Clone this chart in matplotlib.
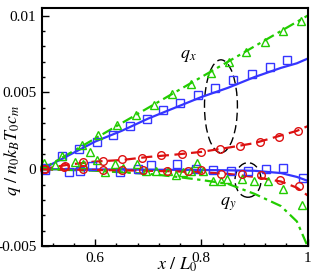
import matplotlib
matplotlib.use("Agg")
import matplotlib.pyplot as plt
from matplotlib.patches import Ellipse
from matplotlib.ticker import FixedLocator, MultipleLocator

plt.rcParams['font.family'] = ['Liberation Serif', 'DejaVu Serif']
plt.rcParams['mathtext.fontset'] = 'stix'

# ---- curves (model) ----
x_line = [0.5, 0.55, 0.6, 0.65, 0.7, 0.75, 0.8, 0.85, 0.9, 0.95, 0.98, 1.0]
qx_blue_line = [0, 0.0009, 0.0018, 0.0025, 0.0033, 0.0040, 0.0047, 0.0053, 0.0060, 0.0066, 0.0069, 0.0072]
qx_green_line = [0, 0.0010, 0.0020, 0.0030, 0.0040, 0.0050, 0.0060, 0.0070, 0.0080, 0.0090, 0.0096, 0.0100]
qx_red_line = [0, 0.0003, 0.0005, 0.0006, 0.0008, 0.00095, 0.00113, 0.0014, 0.0017, 0.0022, 0.0025, 0.0028]
qy_blue_line = [0, 0, -0.00001, -0.00002, -0.00003, -0.00004, -0.00005, -0.00007, -0.0001, -0.00025, -0.0005, -0.00075]
qy_green_line = [0, -0.00005, -0.0001, -0.0002, -0.0003, -0.00048, -0.0007, -0.00095, -0.0016, -0.0024, -0.0034, -0.005]
qy_red_line = [0, -0.00002, -0.00005, -0.00007, -0.0001, -0.00014, -0.0002, -0.0003, -0.0005, -0.0008, -0.0012, -0.0017]

# ---- markers (simulation) ----
qx_blue_x = [0.505, 0.537, 0.570, 0.603, 0.633, 0.666, 0.697, 0.728, 0.760, 0.793, 0.826, 0.860, 0.895, 0.929, 0.962]
qx_blue_y = [0.0001, 0.00086, 0.00129, 0.00178, 0.00225, 0.0028, 0.00328, 0.00386, 0.00434, 0.00483, 0.0053, 0.00579, 0.00622, 0.00665, 0.00712]
qx_green_x = [0.538, 0.575, 0.590, 0.606, 0.641, 0.677, 0.711, 0.745, 0.780, 0.818, 0.852, 0.885, 0.920, 0.954, 0.987]
qx_green_y = [0.00086, 0.0016, 0.0011, 0.00225, 0.0029, 0.00354, 0.00418, 0.00487, 0.00558, 0.00629, 0.00701, 0.00762, 0.0083, 0.00901, 0.00965]
qx_red_x = [0.506, 0.543, 0.578, 0.614, 0.651, 0.689, 0.724, 0.763, 0.800, 0.835, 0.873, 0.910, 0.946, 0.982]
qx_red_y = [0.0, 0.00022, 0.00048, 0.00054, 0.00064, 0.00075, 0.0009, 0.00097, 0.00114, 0.00129, 0.0015, 0.00178, 0.00212, 0.00247]

qy_blue_x = [0.505, 0.550, 0.572, 0.594, 0.647, 0.680, 0.706, 0.755, 0.790, 0.822, 0.855, 0.888, 0.921, 0.954, 0.991]
qy_blue_y = [-0.00005, -0.00015, -0.0001, 0.0002, -0.0002, 0.0, 0.00028, 0.00035, 0.0, -0.00005, -0.00012, -0.00012, 0.00003, 0.0001, -0.0006]
qy_green_x = [0.504, 0.525, 0.562, 0.578, 0.604, 0.619, 0.638, 0.652, 0.678, 0.696, 0.715, 0.738, 0.753, 0.766, 0.780, 0.792, 0.804, 0.822, 0.838, 0.849, 0.877, 0.900, 0.926, 0.954, 0.989]
qy_green_y = [0.0004, 0.00026, 0.0005, 0.00037, 0.00058, -0.0002, 0.00037, 0.00006, 0.00037, -0.0001, -0.0001, -0.0001, -0.0004, -0.0002, -0.0001, 0.0004, -0.0001, -0.00075, -0.00075, -0.00064, -0.00064, -0.00075, -0.00075, -0.0013, -0.00236]
qy_red_x = [0.504, 0.541, 0.577, 0.614, 0.650, 0.690, 0.735, 0.775, 0.800, 0.837, 0.877, 0.912, 0.948, 0.984]
qy_red_y = [0.0, 0.00015, 0.0, -0.00006, -0.00005, -0.00008, -0.0001, -0.0001, -0.00006, -0.00028, -0.00028, -0.0004, -0.0007, -0.00107]

yticks = [-0.005, 0, 0.005, 0.01]
ytick_labels = ['-0.005', '0', '0.005', '0.01']
xticks = [0.6, 0.8, 1.0]
xtick_labels = ['0.6', '0.8', '1']

blue = '#3535ff'
green = '#22cc00'
red = '#dd1111'

fig = plt.figure(figsize=(3.15, 2.8), dpi=100)
ax = fig.add_axes([0.1333, 0.1214, 0.8429, 0.8500])

lw = 1.6
ax.plot(x_line, qx_blue_line, '-', color=blue, lw=lw)
ax.plot(x_line, qx_green_line, '-.', color=green, lw=lw, dashes=[5, 2, 1.5, 2])
ax.plot(x_line, qx_red_line, '--', color=red, lw=lw, dashes=[5, 2.5])
ax.plot(x_line, qy_blue_line, '-', color=blue, lw=lw)
ax.plot(x_line, qy_green_line, '-.', color=green, lw=lw, dashes=[5, 2, 1.5, 2])
ax.plot(x_line, qy_red_line, '--', color=red, lw=lw, dashes=[5, 2.5])

ms = 5.5
mk = dict(ls='none', mfc='none', mew=1.0, ms=ms, clip_on=False)
ax.plot(qx_blue_x, qx_blue_y, marker='s', mec=blue, **mk)
ax.plot(qy_blue_x, qy_blue_y, marker='s', mec=blue, **mk)
ax.plot(qx_green_x, qx_green_y, marker='^', mec=green, **mk)
ax.plot(qy_green_x, qy_green_y, marker='^', mec=green, **mk)
ax.plot(qx_red_x, qx_red_y, marker='o', mec=red, **mk)
ax.plot(qy_red_x, qy_red_y, marker='o', mec=red, **mk)

ax.add_patch(Ellipse((0.837, 0.0041), 0.062, 0.00605, fill=False, ec='black',
                     lw=1.0, ls=(0, (6, 3)), angle=0))
ax.add_patch(Ellipse((0.888, -0.0007), 0.049, 0.00225, fill=False, ec='black',
                     lw=1.0, ls=(0, (6, 3))))
ax.text(0.775, 0.0074, '$q_x$', fontsize=13, ha='center', va='center')
ax.text(0.85, -0.0023, '$q_y$', fontsize=13, ha='center', va='center')

ax.set_xlim(0.5, 1.0)
ax.set_ylim(-0.005, 0.0105)
ax.xaxis.set_major_locator(FixedLocator(xticks))
ax.set_xticklabels(xtick_labels)
ax.xaxis.set_minor_locator(MultipleLocator(0.04))
ax.yaxis.set_major_locator(FixedLocator(yticks))
ax.set_yticklabels(ytick_labels)
ax.yaxis.set_minor_locator(MultipleLocator(0.001))
ax.tick_params(which='both', direction='in', top=False, right=False, labelsize=11, width=1.0)
ax.tick_params(which='major', length=5, pad=4)
ax.tick_params(which='minor', length=2.5)
for s in ax.spines.values():
    s.set_linewidth(1.5)

ax.set_xlabel('$x\\ /\\ L_0$', fontsize=13)
ax.xaxis.set_label_coords(0.51, -0.04)
ax.set_ylabel('$q\\ /\\ n_0 k_B T_0 c_m$', fontsize=13)
ax.yaxis.set_label_coords(-0.072, 0.40)

fig.savefig('out.png', dpi=100)
